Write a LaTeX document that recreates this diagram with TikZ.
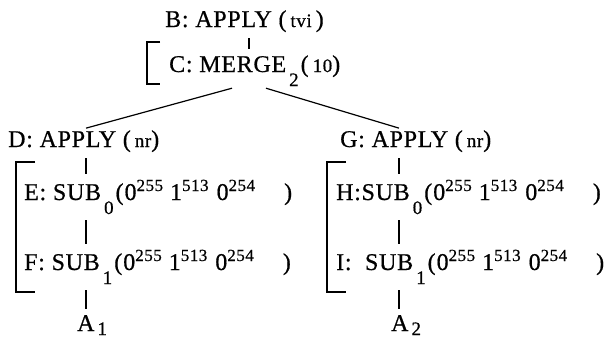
\documentclass[tikz,border=0pt]{standalone}
\usepackage{fontspec}
\setmainfont{Liberation Serif}[LetterSpace=3,FakeBold=0.6]
\usepackage{tikz}
\usetikzlibrary{calc}
\newcommand{\lo}[2][14pt]{\hspace{3pt}\raisebox{-#1}{\fontsize{19}{19}\selectfont #2}\hspace{2pt}}
\newcommand{\hi}[1]{\raisebox{9pt}{\fontsize{17}{17}\selectfont #1}}
\newcommand{\sm}[1]{{\fontsize{19}{19}\selectfont #1}}
\newcommand{\word}{(\hspace{1pt}0\hi{255}\hspace{7pt}1\hi{513}\hspace{8pt}0\hi{254}\hspace{29pt})}

\begin{document}
\begin{tikzpicture}[
x=1pt,y=-1pt,
lbl/.style={anchor=base west,inner sep=2pt,font=\fontsize{24}{26}\selectfont},
tick/.style={line width=1.2pt,shorten <=4pt,shorten >=4pt},
edge/.style={line width=1.2pt},
brk/.style={line width=1.6pt}
]
\useasboundingbox (0,0) rectangle (608,346);
% columns of the vertical ticks
\coordinate (mx) at (249,0);
\coordinate (lx) at (86,0);
\coordinate (rx) at (399,0);
\coordinate (cl) at (232,0);
\coordinate (cr) at (266,0);
% top
\node[lbl] (B) at (163,27) {B: APPLY (\,\sm{tvi}\,)};
\node[lbl] (C) at (167,72) {C: MERGE\lo{2}(\,\sm{10})};
% left branch
\node[lbl] (D) at (6,147) {D: APPLY (\,\sm{nr})};
\node[lbl] (E) at (22,200) {E: SUB\lo{0}\word};
\node[lbl] (F) at (22,270) {F: SUB\lo{1}\word};
\node[lbl] (A1) at (75,331) {A\lo[4pt]{1}};
% right branch
\node[lbl] (G) at (338,147) {G: APPLY (\,\sm{nr})};
\node[lbl] (H) at (334,200) {H:SUB\lo{0}\word};
\node[lbl] (I) at (334,270) {I:\ \ SUB\lo{1}\word};
\node[lbl] (A2) at (389,331) {A\lo[4pt]{2}};
% links
\draw[tick] (B.south -| mx) -- (C.north -| mx);
\draw[edge] (C.south -| cl) -- (D.north -| lx);
\draw[edge] (C.south -| cr) -- (G.north -| rx);
\draw[tick] (D.south -| lx) -- (E.north -| lx);
\draw[tick] (E.south -| lx) -- (F.north -| lx);
\draw[tick] (F.south -| lx) -- (A1.north -| lx);
\draw[tick] (G.south -| rx) -- (H.north -| rx);
\draw[tick] (H.south -| rx) -- (I.north -| rx);
\draw[tick] (I.south -| rx) -- (A2.north -| rx);
% brackets
\draw[brk] (160,42) -- (147,42) -- (147,84) -- (160,84);
\draw[brk] (35,162) -- (16,162) -- (16,292) -- (35,292);
\draw[brk] (346,162) -- (327,162) -- (327,292) -- (346,292);
\end{tikzpicture}
\end{document}
